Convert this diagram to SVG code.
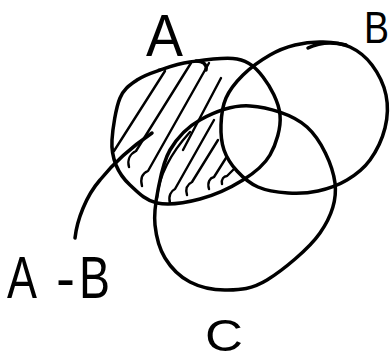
<svg xmlns="http://www.w3.org/2000/svg" width="392" height="362" viewBox="0 0 392 362">
  <style>
    .outline { fill: none; stroke: #000; stroke-width: 3.5; stroke-linecap: round; stroke-linejoin: round; }
    .hatch { fill: none; stroke: #000; stroke-width: 2.4; stroke-linecap: round; stroke-linejoin: round; }
    .label { font-family: "Liberation Sans", Arial, sans-serif; fill: #000; }
  </style>
  <rect width="392" height="362" fill="#fff"/>

  <g id="set-A">
    <path class="outline" d="M112,140 C112.7,128.8 115.8,108 120,98 C124.2,88 130.3,84.7 137,80 C143.7,75.3 151.2,73 160,70 C168.8,67 177.2,63.8 190,62 C202.8,60.2 224.8,56.5 237,59 C249.2,61.5 255.8,67.7 263,77 C270.2,86.3 278.8,102 280,115 C281.2,128 276.2,144.2 270,155 C263.8,165.8 254.7,172.7 243,180 C231.3,187.3 214.3,195.2 200,199 C185.7,202.8 168.7,205.3 157,203 C145.3,200.7 136.8,191.3 130,185 C123.2,178.7 119,172.5 116,165 C113,157.5 111.3,151.2 112,140 Z"/>
    <path class="outline" d="M196,61 C203,61 207,64 206,70"/>
    <text class="label" x="146" y="56" font-size="60" textLength="37" lengthAdjust="spacingAndGlyphs">A</text>
  </g>

  <g id="set-B">
    <path class="outline" d="M221,125 C221.3,116.3 222.3,106.3 226,98 C229.7,89.7 235.7,82.2 243,75 C250.3,67.8 261.3,60 270,55 C278.7,50 286.2,47.2 295,45 C303.8,42.8 313.8,41.7 323,42 C332.2,42.3 341.8,43.2 350,47 C358.2,50.8 366,57 372,65 C378,73 383.8,84.5 386,95 C388.2,105.5 387.7,117.2 385,128 C382.3,138.8 376.3,151.3 370,160 C363.7,168.7 355.7,174.8 347,180 C338.3,185.2 327.8,188.8 318,191 C308.2,193.2 298,193.7 288,193 C278,192.3 266.5,190.7 258,187 C249.5,183.3 242.7,177.2 237,171 C231.3,164.8 226.7,157.7 224,150 C221.3,142.3 220.7,133.7 221,125 Z"/>
    <path class="outline" d="M308,48 C320,42 334,42 346,45" stroke-width="2.5"/>
    <text class="label" x="364" y="43" font-size="44" textLength="25" lengthAdjust="spacingAndGlyphs">B</text>
  </g>

  <g id="set-C">
    <path class="outline" d="M250,106 C267.8,107.2 292.8,114.2 307,127 C321.2,139.8 332.8,165.3 335,183 C337.2,200.7 331.3,216.8 320,233 C308.7,249.2 282.5,270.5 267,280 C251.5,289.5 239.8,289.7 227,290 C214.2,290.3 200.3,287.3 190,282 C179.7,276.7 170.8,267.5 165,258 C159.2,248.5 156.2,236.3 155,225 C153.8,213.7 155.5,202.5 158,190 C160.5,177.5 163,161.7 170,150 C177,138.3 186.7,127.3 200,120 C213.3,112.7 232.2,104.8 250,106 Z"/>
    <text class="label" x="205" y="351" font-size="44" textLength="38" lengthAdjust="spacingAndGlyphs">C</text>
  </g>

  <g id="hatching-A-minus-B">
    <path class="hatch" d="M114,151 L165,71"/>
    <path class="hatch" d="M129,167 C127,160 130,154 136,151 L191,63"/>
    <path class="hatch" d="M142,186 C140,178 143,173 148,171 L209,63"/>
    <path class="hatch" d="M157,198 C159,176 170,154 190,132" stroke-width="5"/>
    <path class="hatch" d="M183,150 L221,78"/>
    <path class="hatch" d="M170,203 C168,196 171,191 175,189 L214,120"/>
    <path class="hatch" d="M187,195 C185,188 188,184 192,182 L218,140"/>
    <path class="hatch" d="M209,189 C207,182 210,178 214,177 L226,158"/>
    <path class="hatch" d="M222,184 C221,179 224,176 227,176 L234,169"/>
  </g>

  <g id="label-A-minus-B">
    <text class="label" y="298" font-size="60"><tspan x="7" textLength="30" lengthAdjust="spacingAndGlyphs">A</tspan><tspan x="56" textLength="19" lengthAdjust="spacingAndGlyphs">-</tspan><tspan x="79" textLength="31" lengthAdjust="spacingAndGlyphs">B</tspan></text>
  </g>

  <g id="connectors">
    <path class="outline" stroke-width="3" d="M75,238 C77,220 86,196 100,180 C112,165 130,148 152,133"/>
  </g>
</svg>
